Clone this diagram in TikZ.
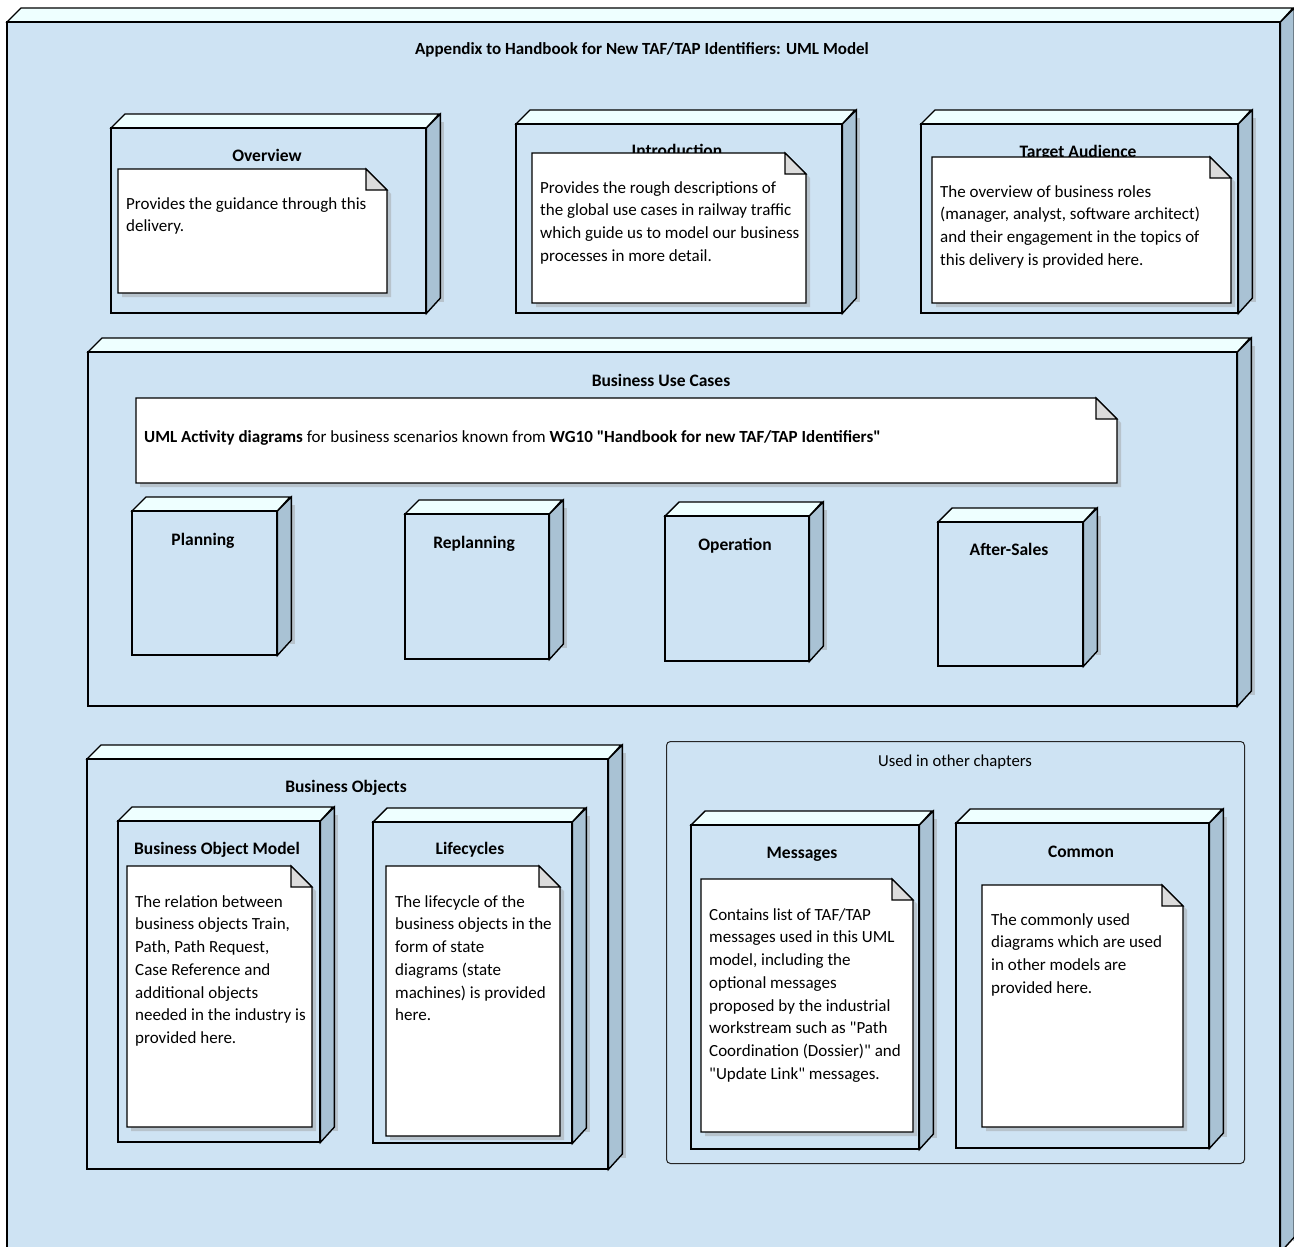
\documentclass[tikz,border=0pt]{standalone}
\usepackage{fontspec}
\setmainfont{Carlito}[Ligatures=TeXOff]
\usetikzlibrary{calc}
\definecolor{frontc}{HTML}{CEE3F3}
\definecolor{topc}{HTML}{EEFFFF}
\definecolor{sidec}{HTML}{A9C2D4}
\definecolor{foldc}{HTML}{DCDCDC}
\definecolor{shadec}{HTML}{B7C3CC}
\tikzset{
  frontbox/.style={draw=black, line width=1.4pt, fill=frontc, inner sep=0pt, anchor=north west},
  face/.style={draw=black, line width=1.4pt, line join=miter},
  ntitle/.style={font=\fontsize{17.5}{20}\selectfont\bfseries, inner sep=0pt, anchor=base},
  notebody/.style={draw=black, line width=1.1pt, fill=white},
  notetext/.style={font=\fontsize{17}{22.7}\selectfont, align=left, inner sep=0pt, anchor=north west},
  grouplabel/.style={font=\fontsize{16.7}{20}\selectfont, inner sep=0pt, anchor=base},
  grouprect/.style={draw=black!85, line width=1pt, rounded corners=4pt, fill=frontc},
}
\newcommand\fl{\rule{0pt}{14pt}}
% 3D UML node: name, x1, y1, x2, y2
\newcommand\umlbox[5]{%
  \fill[shadec] (#4+14,#3-6) rectangle (#4+19,#5-10);
  \node[frontbox, minimum width=#4-#2, minimum height=#5-#3] (#1) at (#2,#3) {};
  \draw[face, fill=topc] (#1.north west) -- ++(14,-14) -- ++(#4-#2,0) -- (#1.north east) -- cycle;
  \draw[face, fill=sidec] (#1.north east) -- ++(14,-14) -- ++(0,#5-#3) -- (#1.south east) -- cycle;
  \draw[face] (#1.north west) rectangle (#1.south east);
}
% UML note outline: x1, y1, x2, y2
\newcommand\umlnote[4]{%
  \fill[shadec] (#1+4,#2+4) -- (#3+4-21,#2+4) -- (#3+4,#2+4+21) -- (#3+4,#4+4) -- (#1+4,#4+4) -- cycle;
  \draw[notebody] (#1,#2) -- (#3-21,#2) -- (#3,#2+21) -- (#3,#4) -- (#1,#4) -- cycle;
  \draw[notebody, fill=foldc] (#3-21,#2) -- (#3-21,#2+21) -- (#3,#2+21) -- cycle;
}
\begin{document}
\begin{tikzpicture}[x=1pt,y=-1pt]
\useasboundingbox (0,0) rectangle (1294,1247);
\fill[white] (0,0) rectangle (1294,1247);
\clip (0,0) rectangle (1294,1247);

% outer package
\umlbox{outer}{7}{22}{1279}{1251}
\node[font=\fontsize{17}{20}\selectfont\bfseries, inner sep=0pt, anchor=base] (outer-t) at (642,55) {Appendix to Handbook for New TAF/TAP Identifiers: UML Model};

% Overview
\umlbox{overview}{111}{128}{425}{312}
\node[ntitle] (overview-t) at (267,161) {Overview};
\umlnote{118}{169}{387}{293}
\node[notetext] (overview-n) at (126,195) {\fl Provides the guidance through this\\delivery.};

% Introduction
\umlbox{intro}{516}{124}{841}{312}
\node[ntitle] (intro-t) at (677,156) {Introduction};
\umlnote{532}{153}{806}{303}
\node[notetext] (intro-n) at (540,179) {\fl Provides the rough descriptions of\\the global use cases in railway traffic\\which guide us to model our business\\processes in more detail.};

% Target Audience
\umlbox{target}{921}{124}{1237}{312}
\node[ntitle] (target-t) at (1078,157) {Target Audience};
\umlnote{932}{157}{1231}{303}
\node[notetext] (target-n) at (940,183) {\fl The overview of business roles\\(manager, analyst, software architect)\\and their engagement in the topics of\\this delivery is provided here.};

% Business Use Cases
\umlbox{buc}{88}{352}{1236}{705}
\node[ntitle] (buc-t) at (661,386) {Business Use Cases};
\umlnote{136}{398}{1117}{483}
\node[notetext] (buc-n) at (144,428) {\fl\textbf{UML Activity diagrams} for business scenarios known from \textbf{WG10 "Handbook for new TAF/TAP Identifiers"}};

\umlbox{planning}{132}{511}{276}{654}
\node[ntitle] (planning-t) at (203,545) {Planning};
\umlbox{replanning}{405}{514}{548}{658}
\node[ntitle] (replanning-t) at (474,548) {Replanning};
\umlbox{operation}{665}{516}{808}{660}
\node[ntitle] (operation-t) at (735,550) {Operation};
\umlbox{aftersales}{938}{522}{1082}{665}
\node[ntitle] (aftersales-t) at (1009,555) {After-Sales};

% Business Objects
\umlbox{bo}{87}{759}{607}{1168}
\node[ntitle] (bo-t) at (346,792) {Business Objects};
\umlbox{bom}{118}{821}{319}{1141}
\node[ntitle] (bom-t) at (217,854) {Business Object Model};
\umlnote{127}{866}{312}{1127}
\node[notetext] (bom-n) at (135,893) {\fl The relation between\\business objects Train,\\Path, Path Request,\\Case Reference and\\additional objects\\needed in the industry is\\provided here.};
\umlbox{life}{373}{822}{571}{1142}
\node[ntitle] (life-t) at (470,854) {Lifecycles};
\umlnote{386}{866}{560}{1136}
\node[notetext] (life-n) at (395,893) {\fl The lifecycle of the\\business objects in the\\form of state\\diagrams (state\\machines) is provided\\here.};

% Used in other chapters
\node[grouprect, minimum width=578, minimum height=422, anchor=north west, inner sep=0pt] (group) at (666,741) {};
\node[grouplabel] (group-t) at (955,766) {Used in other chapters};
\umlbox{messages}{691}{825}{918}{1148}
\node[ntitle] (messages-t) at (802,858) {Messages};
\umlnote{701}{879}{913}{1132}
\node[notetext] (messages-n) at (709,906) {\fl Contains list of TAF/TAP\\messages used in this UML\\model, including the\\optional messages\\proposed by the industrial\\workstream such as "Path\\Coordination (Dossier)" and\\"Update Link" messages.};
\umlbox{common}{956}{823}{1208}{1147}
\node[ntitle] (common-t) at (1081,857) {Common};
\umlnote{982}{885}{1183}{1127}
\node[notetext] (common-n) at (991,911) {\fl The commonly used\\diagrams which are used\\in other models are\\provided here.};
\end{tikzpicture}
\end{document}
